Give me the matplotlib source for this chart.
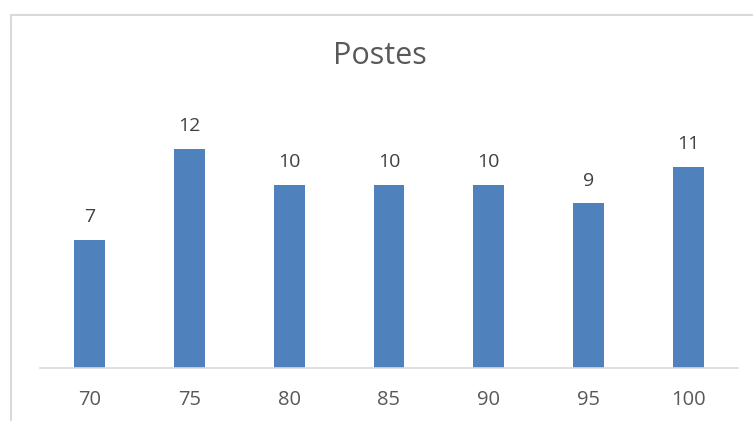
import matplotlib
matplotlib.use("Agg")
import matplotlib.pyplot as plt
from matplotlib.patches import Rectangle

categories = ["70", "75", "80", "85", "90", "95", "100"]
values = [7, 12, 10, 10, 10, 9, 11]
title = "Postes"

plt.rcParams['font.family'] = ['Open Sans', 'DejaVu Sans']

fig = plt.figure(figsize=(7.53, 4.21), dpi=100)
W, H = 753, 421

# chart border (light gray, partially visible)
fig.patches.append(Rectangle((10.5 / W, -0.1), 1.2, (421 - 14.5) / H + 0.1,
                             transform=fig.transFigure, fill=False,
                             edgecolor="#D9D9D9", linewidth=1.5))

ax = fig.add_axes([40 / W, (H - 368) / H, (738 - 40) / W, (368 - 112) / H])
x = list(range(len(categories)))
ax.bar(x, values, width=0.31, color="#4F81BD", zorder=2)
ax.set_xlim(-0.5, len(categories) - 0.5)
ax.set_ylim(0, 14)
for xi, v in zip(x, values):
    ax.annotate(str(v), (xi, v), xytext=(0, 10), textcoords="offset points",
                ha="center", va="bottom", fontsize=14, color="#404040")

for s in ["top", "right", "left"]:
    ax.spines[s].set_visible(False)
ax.spines["bottom"].set_color("#D9D9D9")
ax.spines["bottom"].set_linewidth(1.2)
ax.set_yticks([])
ax.set_xticks(x)
ax.set_xticklabels(categories, fontsize=14.5, color="#595959")
ax.tick_params(axis="x", length=0, pad=16)

fig.text(380 / W, (H - 56) / H, title, ha="center", va="center",
         fontsize=22, color="#595959")

fig.savefig("out.png", dpi=100)
